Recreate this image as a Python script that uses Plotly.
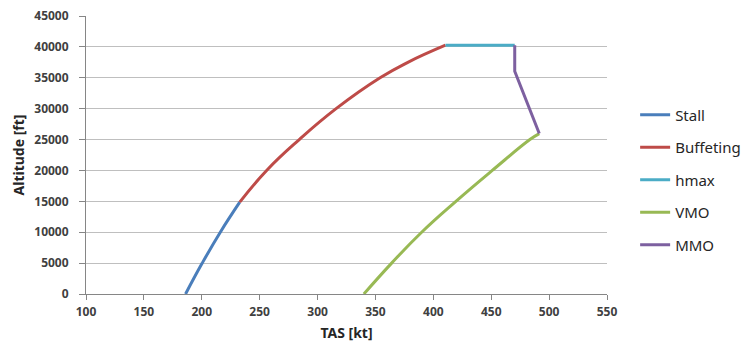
import plotly.graph_objects as go

# Data
stall_tas = [186, 200.4, 216, 232.8]
stall_alt = [0, 5000, 10000, 14860]

buff_tas = [232.8, 256, 284.2, 316, 354, 378, 410.5]
buff_alt = [14860, 20000, 25000, 30000, 35000, 37500, 40270]

hmax_tas = [410.5, 470.3]
hmax_alt = [40270, 40270]

vmo_tas = [340, 364, 389.9, 419.5, 450.9, 483.4, 491.5]
vmo_alt = [0, 5000, 10000, 15000, 20000, 25000, 25970]

mmo_tas = [470.3, 470.3, 491.5]
mmo_alt = [40270, 36060, 25970]

x_ticks = [100, 150, 200, 250, 300, 350, 400, 450, 500, 550]
y_ticks = [0, 5000, 10000, 15000, 20000, 25000, 30000, 35000, 40000, 45000]

series = [
    ("Stall", stall_tas, stall_alt, "#4A7EBB", "spline"),
    ("Buffeting", buff_tas, buff_alt, "#BE4B48", "spline"),
    ("hmax", hmax_tas, hmax_alt, "#4BACC6", "linear"),
    ("VMO", vmo_tas, vmo_alt, "#98B954", "spline"),
    ("MMO", mmo_tas, mmo_alt, "#7D60A0", "linear"),
]

fig = go.Figure()
for i, (name, xs, ys, col, shape) in enumerate(series):
    fig.add_trace(go.Scatter(
        x=xs, y=ys, name=name, mode="lines",
        line=dict(color=col, width=3, shape=shape, smoothing=1.3),
        legendgroup="g%d" % i,
    ))

fig.update_layout(
    width=747, height=347,
    margin=dict(l=86, r=140, t=16, b=53, autoexpand=False),
    paper_bgcolor="white", plot_bgcolor="white",
    font=dict(family="Noto Sans, sans-serif", color="#262626"),
    showlegend=True,
    legend=dict(
        x=1.054, xanchor="left", xref="paper",
        y=0.41, yanchor="middle",
        font=dict(size=15, color="#262626"),
        traceorder="grouped", tracegroupgap=10,
        itemwidth=30,
    ),
)
fig.update_xaxes(
    range=[100, 550], tickvals=x_ticks, ticktext=["<b>%d</b>" % v for v in x_ticks],
    showgrid=False, zeroline=False, automargin=False,
    showline=True, linecolor="#868686", linewidth=1,
    ticks="outside", ticklen=5, tickcolor="#868686", ticklabelstandoff=2,
    tickfont=dict(size=12, color="#404040", family="Noto Sans, sans-serif"),
    title=dict(text="<b>TAS [kt]</b>", font=dict(size=14, color="#262626"), standoff=8),
)
fig.update_yaxes(
    range=[0, 45000], tickvals=y_ticks, ticktext=["<b>%d</b>" % v for v in y_ticks],
    showgrid=True, gridcolor="#BFBFBF", gridwidth=1, zeroline=False, automargin=False,
    showline=True, linecolor="#868686", linewidth=1,
    ticks="outside", ticklen=6, tickcolor="#868686", ticklabelstandoff=8,
    tickfont=dict(size=12, color="#404040", family="Noto Sans, sans-serif"),
    title=dict(text="<b>Altitude [ft]</b>", font=dict(size=14, color="#262626"), standoff=6),
)

fig.write_html("out.html")
